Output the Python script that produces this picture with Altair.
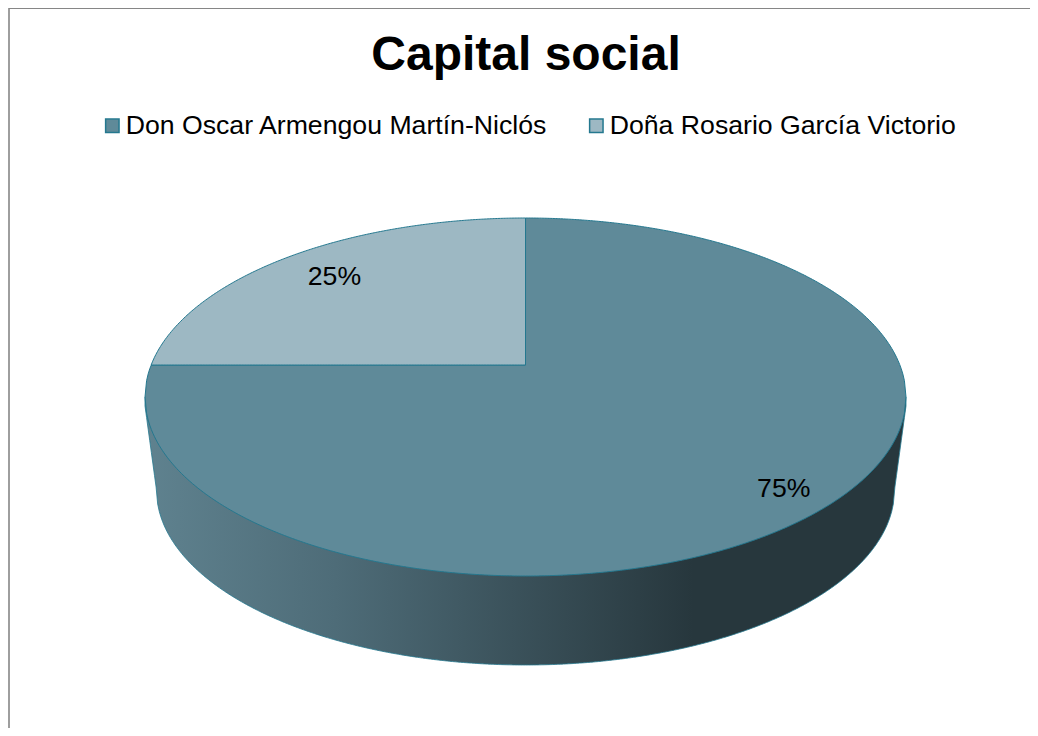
import numpy as np
import pandas as pd
import altair as alt

TITLE = "Capital social"
NAMES = ["Don Oscar Armengou Martín-Niclós", "Doña Rosario García Victorio"]
SHARES = [75, 25]
LABELS = ["75%", "25%"]
COLORS = ["#5F8A99", "#9DB8C3"]
EDGE = "#24788F"

W, H = 1022, 720
OX, OY = 8, 8                     # page margin
CX, CY, A, B = 525.5, 397.0, 380.5, 179.0   # top ellipse in page pixels
APEX_Y = (365.0 - CY) / B         # perspective: the slices meet above the ellipse's centre
RIM_A = 369.0 / A                 # lower rim, in top-ellipse units
RIM_B = 175.0 / B
RIM_CY = (490.0 - CY) / B
LABEL_R = [0.96, 0.71]
LABEL_DY = 2.0 / B

x_scale = alt.Scale(domain=[(OX - CX) / A, (OX + W - CX) / A], nice=False, zero=False)
# y grows downwards in units of B: data y=+1 is the front of the ellipse
y_scale = alt.Scale(domain=[(OY - CY) / B, (OY + H - CY) / B], range=[0, H], nice=False, zero=False)

def half(x):
    return np.sqrt(np.clip(1 - x ** 2, 0, 1))

t = np.linspace(0, 1, 241)
split_x = 0.0
left_limit = -half(APEX_Y)
xs_small = left_limit + (split_x - left_limit) * t
small = pd.DataFrame({"x": xs_small, "y": -half(xs_small), "y2": APEX_Y, "name": NAMES[1]})

xl = -1 + (split_x + 1) * t
xr = 1e-4 + (1 - 1e-4) * t
big = pd.concat([
    pd.DataFrame({"x": xl, "y": np.maximum(APEX_Y, -half(xl)), "y2": half(xl)}),
    pd.DataFrame({"x": xr, "y": -half(xr), "y2": half(xr)}),
]).assign(name=NAMES[0])

xw = np.linspace(-1, 1, 481)
rim = np.where(
    np.abs(xw) <= RIM_A,
    RIM_CY + RIM_B * half(xw / RIM_A),
    0.05 + (RIM_CY - 0.05) * (1 - np.abs(xw)) / (1 - RIM_A),
)
side = pd.DataFrame({"x": xw, "y": 0.0, "y2": rim})

x_enc = alt.X("x:Q", scale=x_scale, axis=None)
y_enc = alt.Y("y:Q", scale=y_scale, axis=None)

side_layer = alt.Chart(side).mark_area(
    color=alt.Gradient(
        gradient="linear", x1=0, y1=0, x2=1, y2=0,
        stops=[
            alt.GradientStop(offset=0, color="#5F828F"),
            alt.GradientStop(offset=0.25, color="#4E6C78"),
            alt.GradientStop(offset=0.72, color="#27373D"),
            alt.GradientStop(offset=1, color="#27373D"),
        ],
    ),
    stroke=EDGE, strokeWidth=0.8, clip=True,
).encode(x=x_enc, y=y_enc, y2="y2:Q")

slices = alt.Chart(pd.concat([big, small])).mark_area(
    stroke=EDGE, strokeWidth=1, opacity=1
).encode(
    x=x_enc, y=y_enc, y2="y2:Q",
    color=alt.Color(
        "name:N",
        scale=alt.Scale(domain=NAMES, range=COLORS),
        legend=alt.Legend(
            title=None, orient="none", legendX=91, legendY=104, direction="horizontal",
            columns=2, columnPadding=35, symbolType="square", symbolSize=180,
            symbolStrokeColor=EDGE, symbolStrokeWidth=1.5, labelFont="Liberation Sans",
            labelFontSize=26.67, labelColor="#000000", labelOffset=0, labelLimit=600,
        ),
    ),
    detail="name:N",
)

mids = np.cumsum(SHARES) - np.array(SHARES) / 2
ang = np.deg2rad(np.array(mids) * 3.6)
text_df = pd.DataFrame({
    "x": np.array(LABEL_R) * np.sin(ang),
    "y": APEX_Y + LABEL_DY - np.array(LABEL_R) * np.cos(ang),
    "label": LABELS,
})
labels = alt.Chart(text_df).mark_text(
    font="Liberation Sans", fontSize=26.67, color="#000000", align="center", baseline="middle"
).encode(x=x_enc, y=y_enc, text="label:N")

frame_left = alt.Chart(pd.DataFrame({"a": [0]})).mark_rule(color="#868686", strokeWidth=1.6).encode(
    x=alt.value(1), y=alt.value(0), y2=alt.value(H))
frame_top = alt.Chart(pd.DataFrame({"a": [0]})).mark_rule(color="#868686", strokeWidth=1.8).encode(
    x=alt.value(1), x2=alt.value(W), y=alt.value(0))

chart = alt.layer(frame_left, frame_top, side_layer, slices, labels).properties(
    width=W, height=H, padding=0, autosize=alt.AutoSizeParams(type="none"),
    title=alt.TitleParams(
        TITLE, font="Liberation Sans", fontSize=48, fontWeight="bold", color="#000000",
        anchor="middle", frame="group", offset=-111, dx=7, baseline="alphabetic",
    ),
).configure_view(stroke=None)

chart.save("out.html", embed_options={"renderer": "svg", "actions": False})
